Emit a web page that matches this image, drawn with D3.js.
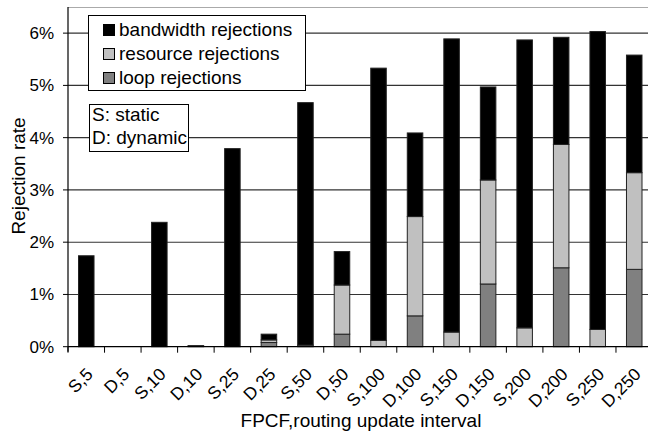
<!DOCTYPE html>
<html>
<head>
<meta charset="utf-8">
<script src="https://cdn.jsdelivr.net/npm/d3@7"></script>
<style>
  body { margin: 0; background: #fff; }
  svg { font-family: "Liberation Sans", Arial, sans-serif; }
</style>
</head>
<body>
<svg id="chart" width="648" height="434"></svg>
<script>
const categories = ["S,5", "D,5", "S,10", "D,10", "S,25", "D,25", "S,50", "D,50",
  "S,100", "D,100", "S,150", "D,150", "S,200", "D,200", "S,250", "D,250"];
// values in %
const loopRej      = [0, 0, 0, 0.005, 0, 0.08, 0, 0.24, 0, 0.59, 0, 1.20, 0, 1.51, 0, 1.48];
const resourceRej  = [0, 0, 0, 0.005, 0, 0.05, 0.03, 0.94, 0.12, 1.90, 0.28, 1.99, 0.36, 2.36, 0.33, 1.85];
const bandwidthRej = [1.74, 0, 2.38, 0.01, 3.79, 0.11, 4.64, 0.64, 5.21, 1.60, 5.61, 1.78, 5.51, 2.05, 5.70, 2.25];
const yTicks = [0, 1, 2, 3, 4, 5, 6];
const seriesNames = ["bandwidth rejections", "resource rejections", "loop rejections"];

const svg = d3.select("#chart");
const plotLeft = 68, plotRight = 652.5, plotTop = 7, plotBottom = 346.7;

const x = d3.scaleBand().domain(categories).range([plotLeft, plotRight])
  .paddingInner(0.575).paddingOuter(0.2875);
const y = d3.scaleLinear().domain([0, 6.5]).range([plotBottom, plotTop]);

// plot area top border
svg.append("line").attr("x1", plotLeft).attr("x2", 648).attr("y1", plotTop + 0.5).attr("y2", plotTop + 0.5)
  .attr("stroke", "#aaa").attr("stroke-width", 1.2);

// gridlines
svg.append("g").selectAll("line").data(yTicks.slice(1)).enter().append("line")
  .attr("x1", plotLeft).attr("x2", 648)
  .attr("y1", d => y(d)).attr("y2", d => y(d))
  .attr("stroke", "#333").attr("stroke-width", 1.1);

// stacked bars
const rows = categories.map((c, i) => ({ cat: c, loop: loopRej[i], resource: resourceRej[i], bandwidth: bandwidthRej[i] }));
const stack = d3.stack().keys(["loop", "resource", "bandwidth"]);
const colors = { loop: "#808080", resource: "#c0c0c0", bandwidth: "#000" };
const layers = stack(rows);

svg.append("g").selectAll("g").data(layers).enter().append("g")
  .attr("fill", d => colors[d.key])
  .selectAll("rect").data(d => d).enter().append("rect")
  .attr("x", d => x(d.data.cat))
  .attr("width", x.bandwidth())
  .attr("y", d => y(d[1]))
  .attr("height", d => Math.max(0, y(d[0]) - y(d[1])))
  .attr("stroke", "#222").attr("stroke-width", d => (d[1] - d[0]) > 0 ? 1 : 0);

// y axis
svg.append("line").attr("x1", plotLeft).attr("x2", plotLeft).attr("y1", plotTop).attr("y2", plotBottom + 5)
  .attr("stroke", "#000").attr("stroke-width", 1.2);
const yg = svg.append("g");
yg.selectAll("line").data(yTicks).enter().append("line")
  .attr("x1", plotLeft - 5).attr("x2", plotLeft).attr("y1", d => y(d)).attr("y2", d => y(d))
  .attr("stroke", "#000");
yg.selectAll("text").data(yTicks).enter().append("text")
  .attr("x", plotLeft - 14).attr("y", d => y(d) + 6)
  .attr("text-anchor", "end").attr("font-size", 17)
  .text(d => d + "%");

// x axis
svg.append("line").attr("x1", plotLeft).attr("x2", 648).attr("y1", plotBottom).attr("y2", plotBottom)
  .attr("stroke", "#000").attr("stroke-width", 1.2);
const boundaries = categories.map(c => x(c) - x.step() * x.paddingOuter());
svg.append("g").selectAll("line").data(boundaries).enter().append("line")
  .attr("x1", d => d).attr("x2", d => d).attr("y1", plotBottom).attr("y2", plotBottom + 6)
  .attr("stroke", "#000");
svg.append("g").selectAll("text").data(categories).enter().append("text")
  .attr("transform", d => `translate(${x(d) + x.bandwidth() / 2 - 1},${plotBottom + 20}) rotate(-45)`)
  .attr("text-anchor", "end").attr("dy", "0.7em").attr("font-size", 17.5)
  .text(d => d);

// axis titles
svg.append("text").attr("x", 361).attr("y", 427).attr("text-anchor", "middle")
  .attr("font-size", 19).text("FPCF,routing update interval");
svg.append("text").attr("transform", "translate(25,176) rotate(-90)")
  .attr("text-anchor", "middle").attr("font-size", 19).text("Rejection rate");

// legend
const legend = svg.append("g");
legend.append("rect").attr("x", 88.5).attr("y", 15.5).attr("width", 217).attr("height", 75)
  .attr("fill", "#fff").attr("stroke", "#000");
const legendColors = [colors.bandwidth, colors.resource, colors.loop];
seriesNames.forEach((name, i) => {
  legend.append("rect").attr("x", 103.5).attr("y", 24.5 + i * 24).attr("width", 11).attr("height", 11)
    .attr("fill", legendColors[i]).attr("stroke", "#000");
  legend.append("text").attr("x", 119).attr("y", 36 + i * 24).attr("font-size", 19).text(name);
});

const note = svg.append("g");
note.append("rect").attr("x", 89.5).attr("y", 104.5).attr("width", 99).attr("height", 47)
  .attr("fill", "#fff").attr("stroke", "#000");
["S: static", "D: dynamic"].forEach((t, i) => {
  note.append("text").attr("x", 92).attr("y", 121 + i * 23).attr("font-size", 19).text(t);
});
</script>
</body>
</html>
